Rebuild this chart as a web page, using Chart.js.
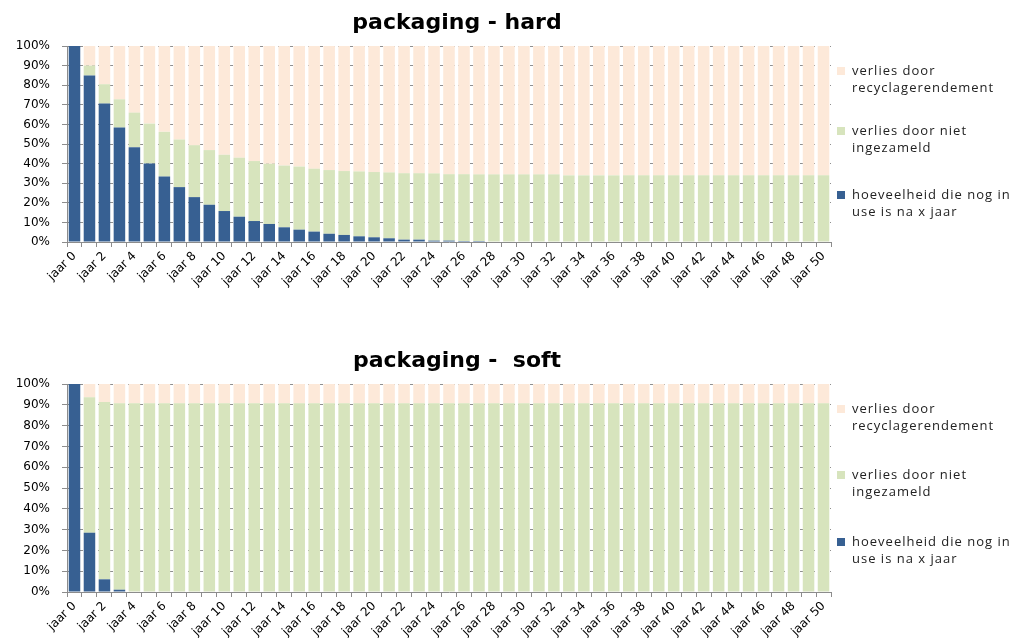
<!DOCTYPE html>
<html>
<head>
<meta charset="utf-8">
<script src="https://cdn.jsdelivr.net/npm/chart.js@4.4.1/dist/chart.umd.min.js"></script>
<style>
  html, body { margin: 0; padding: 0; background: #fff; overflow: hidden; width: 1013px; height: 641px; }
  .box { position: absolute; left: 0; width: 1013px; }
  .title { position: absolute; left: 307px; width: 300px; text-align: center; white-space: pre;
           font: bold 22px "DejaVu Sans", sans-serif; color: #000; line-height: 26px; }
  .legend { position: absolute; left: 835px; width: 178px; font: 13px "Open Sans", sans-serif; color: #222; letter-spacing: 1px; }
  .item { position: absolute; left: 0; width: 178px; }
  .sw { position: absolute; left: 2px; top: 5px; width: 8px; height: 8px; }
  .txt { margin-left: 17px; line-height: 17px; white-space: nowrap; }
</style>
</head>
<body>
<div class="box" style="top:0;height:300px"><canvas id="hard"></canvas></div>
<div class="box" style="top:338px;height:303px"><canvas id="soft"></canvas></div>
<div class="title" style="top:9px">packaging - hard</div>
<div class="title" style="top:347px">packaging -  soft</div>
<div class="legend" id="legendHard" style="top:0"></div>
<div class="legend" id="legendSoft" style="top:338px"></div>
<script>
const years = [];
for (let i = 0; i <= 50; i++) years.push("jaar " + i);

const yTicks = [0, 10, 20, 30, 40, 50, 60, 70, 80, 90, 100];

// legend texts, as they wrap in the picture
const seriesLines = [
  ["hoeveelheid die nog in", "use is na x jaar"],
  ["verlies door niet", "ingezameld"],
  ["verlies door", "recyclagerendement"]
];
const seriesColors = ["#376092", "#d7e4bd", "#fde9d9"];

// packaging - hard (percent)
const hardInUse = [
  100, 84.9, 70.6, 58.4, 48.4, 40.1, 33.4, 28.0, 22.9, 19.0,
  15.8, 12.9, 10.7, 9.2, 7.5, 6.3, 5.3, 4.2, 3.6, 2.9,
  2.4, 1.9, 1.2, 1.2, 0.7, 0.7, 0.5, 0.5, 0, 0,
  0, 0, 0, 0, 0, 0, 0, 0, 0, 0,
  0, 0, 0, 0, 0, 0, 0, 0, 0, 0,
  0
];
const hardNotCollected = [
  0, 5.1, 9.9, 14.4, 17.6, 20.3, 22.8, 24.3, 26.5, 27.9,
  28.7, 30.1, 30.6, 30.7, 31.5, 32.2, 32.1, 32.5, 32.6, 33.1,
  33.3, 33.6, 33.9, 33.9, 34.3, 33.9, 34.1, 34.0, 34.5, 34.5,
  34.5, 34.5, 34.5, 34.0, 34.0, 34.0, 34.0, 34.0, 34.0, 34.0,
  34.0, 34.0, 34.0, 34.0, 34.0, 34.0, 34.0, 34.0, 34.0, 34.0,
  34.0
];
const hardRecycleLoss = [
  0, 10.0, 19.5, 27.2, 34.0, 39.6, 43.8, 47.7, 50.6, 53.1,
  55.5, 57.0, 58.7, 60.1, 61.0, 61.5, 62.6, 63.3, 63.8, 64.0,
  64.3, 64.5, 64.9, 64.9, 65.0, 65.4, 65.4, 65.5, 65.5, 65.5,
  65.5, 65.5, 65.5, 66.0, 66.0, 66.0, 66.0, 66.0, 66.0, 66.0,
  66.0, 66.0, 66.0, 66.0, 66.0, 66.0, 66.0, 66.0, 66.0, 66.0,
  66.0
];

// packaging - soft (percent)
const softInUse = [
  100, 28.5, 6.1, 1.1, 0, 0, 0, 0, 0, 0,
  0, 0, 0, 0, 0, 0, 0, 0, 0, 0,
  0, 0, 0, 0, 0, 0, 0, 0, 0, 0,
  0, 0, 0, 0, 0, 0, 0, 0, 0, 0,
  0, 0, 0, 0, 0, 0, 0, 0, 0, 0,
  0
];
const softNotCollected = [
  0, 65.1, 85.2, 89.6, 90.7, 90.7, 90.7, 90.7, 90.7, 90.7,
  90.7, 90.7, 90.7, 90.7, 90.7, 90.7, 90.7, 90.7, 90.7, 90.7,
  90.7, 90.7, 90.7, 90.7, 90.7, 90.7, 90.7, 90.7, 90.7, 90.7,
  90.7, 90.7, 90.7, 90.7, 90.7, 90.7, 90.7, 90.7, 90.7, 90.7,
  90.7, 90.7, 90.7, 90.7, 90.7, 90.7, 90.7, 90.7, 90.7, 90.7,
  90.7
];
const softRecycleLoss = [
  0, 6.4, 8.7, 9.3, 9.3, 9.3, 9.3, 9.3, 9.3, 9.3,
  9.3, 9.3, 9.3, 9.3, 9.3, 9.3, 9.3, 9.3, 9.3, 9.3,
  9.3, 9.3, 9.3, 9.3, 9.3, 9.3, 9.3, 9.3, 9.3, 9.3,
  9.3, 9.3, 9.3, 9.3, 9.3, 9.3, 9.3, 9.3, 9.3, 9.3,
  9.3, 9.3, 9.3, 9.3, 9.3, 9.3, 9.3, 9.3, 9.3, 9.3,
  9.3
];

const tickFont = { family: "'DejaVu Sans', sans-serif", size: 12 };

function makeChart(id, series, topPad, bottomPad) {
  return new Chart(document.getElementById(id), {
    type: "bar",
    data: {
      labels: years,
      datasets: series.map((values, i) => ({
        label: seriesLines[i].join(" "),
        data: values,
        backgroundColor: seriesColors[i],
        borderWidth: 0,
        barPercentage: 0.77,
        categoryPercentage: 1
      }))
    },
    options: {
      responsive: true,
      maintainAspectRatio: false,
      animation: false,
      layout: { padding: { left: 5, right: 182, top: topPad, bottom: bottomPad } },
      plugins: {
        legend: { display: false },
        tooltip: { enabled: false }
      },
      scales: {
        x: {
          stacked: true,
          afterFit: (s) => { s.height = 48; },
          grid: { drawOnChartArea: false, tickLength: 5, color: "#8c8c8c" },
          border: { color: "#8c8c8c" },
          ticks: {
            autoSkip: false,
            maxRotation: 45,
            minRotation: 45,
            padding: 2,
            color: "#000",
            font: tickFont,
            callback: (v, i) => (i % 2 === 0 ? years[i] : "")
          }
        },
        y: {
          stacked: true,
          min: 0,
          max: 100,
          afterFit: (s) => { s.width = 62; },
          afterBuildTicks: (s) => { s.ticks = yTicks.map((v) => ({ value: v })); },
          grid: { color: "#8f8f8f", tickLength: 5, tickColor: "#8c8c8c" },
          border: { color: "#8c8c8c", dash: [3, 3] },
          ticks: {
            padding: 12,
            color: "#000",
            font: tickFont,
            callback: (v) => v + "%"
          }
        }
      }
    }
  });
}

function makeLegend(id, tops) {
  const el = document.getElementById(id);
  // top to bottom: reverse of stacking order
  [2, 1, 0].forEach((si, k) => {
    const item = document.createElement("div");
    item.className = "item";
    item.style.top = tops[k] + "px";
    const sw = document.createElement("div");
    sw.className = "sw";
    sw.style.background = seriesColors[si];
    item.appendChild(sw);
    seriesLines[si].forEach((line) => {
      const t = document.createElement("div");
      t.className = "txt";
      t.textContent = line;
      item.appendChild(t);
    });
    el.appendChild(item);
  });
}

makeChart("hard", [hardInUse, hardNotCollected, hardRecycleLoss], 46, 10);
makeChart("soft", [softInUse, softNotCollected, softRecycleLoss], 46, 1);
makeLegend("legendHard", [62, 122, 186]);
makeLegend("legendSoft", [62, 128, 195]);
</script>
</body>
</html>
